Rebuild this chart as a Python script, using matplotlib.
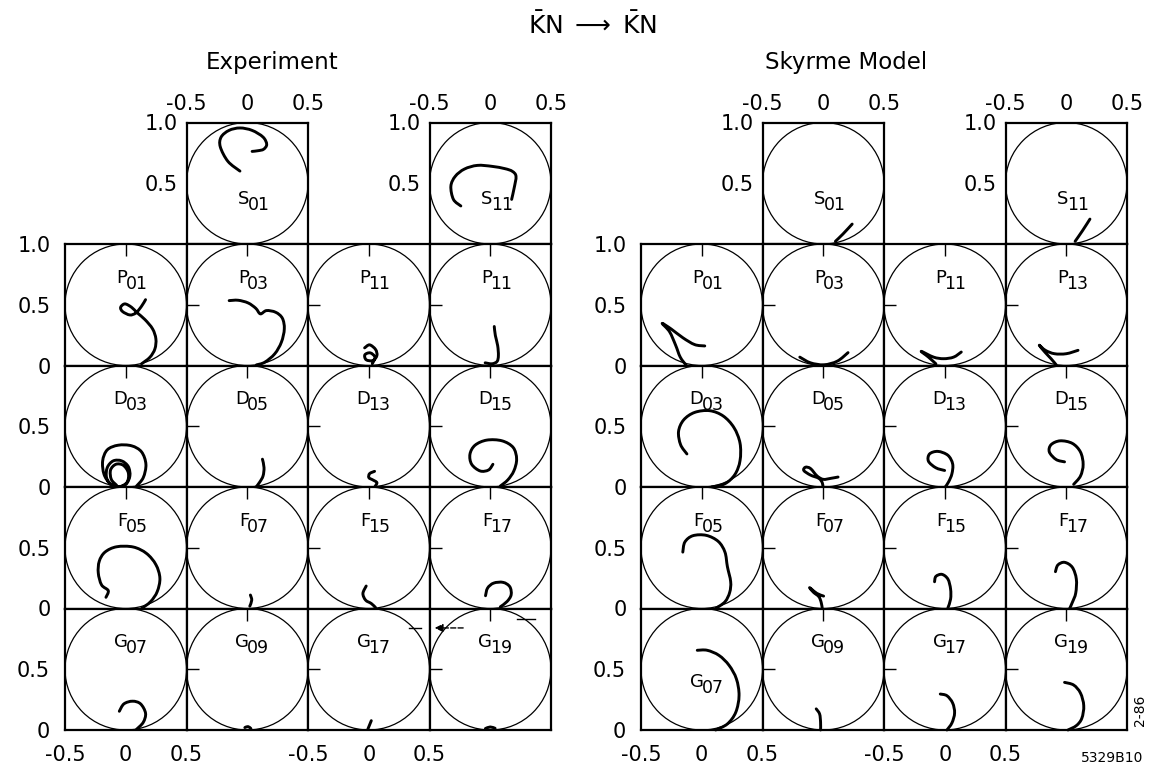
import matplotlib
matplotlib.use('Agg')
import matplotlib.pyplot as plt
from matplotlib.patches import Circle, PathPatch
from matplotlib.path import Path
import matplotlib.transforms as mtransforms

W, H = 1152, 773
fig = plt.figure(figsize=(W / 100, H / 100), dpi=100)
plt.rcParams['font.family'] = ['DejaVu Sans']

# ---------------- data (Argand-diagram trajectories, cell coords: x = Re, y = Im) ----------------
panel_titles = ["Experiment", "Skyrme Model"]
main_title = r"$\mathrm{\bar{K}N}\;\longrightarrow\;\mathrm{\bar{K}N}$"
x_ticks = [-0.5, 0, 0.5]
x_tick_labels = ["-0.5", "0", "0.5"]
y_tick_labels_row = ["0", "0.5"]
y_tick_labels_box = ["0.5", "1.0"]

exp_top = ["S01", "S11"]
exp_grid = [["P01", "P03", "P11", "P11"],
            ["D03", "D05", "D13", "D15"],
            ["F05", "F07", "F15", "F17"],
            ["G07", "G09", "G17", "G19"]]
sky_top = ["S01", "S11"]
sky_grid = [["P01", "P03", "P11", "P13"],
            ["D03", "D05", "D13", "D15"],
            ["F05", "F07", "F15", "F17"],
            ["G07", "G09", "G17", "G19"]]

# Experiment
exp_S01 = ([-0.060, -0.159, -0.222, -0.215, -0.150, -0.060, 0.040, 0.130, 0.160, 0.135, 0.090, 0.040],
           [0.600, 0.680, 0.800, 0.880, 0.935, 0.955, 0.935, 0.880, 0.820, 0.780, 0.768, 0.762])
exp_S11 = ([-0.242, -0.303, -0.324, -0.288, -0.212, -0.106, 0.015, 0.121, 0.182, 0.212, 0.197, 0.176],
           [0.313, 0.367, 0.476, 0.557, 0.617, 0.647, 0.639, 0.620, 0.598, 0.557, 0.462, 0.367])
exp_P01 = ([0.163, 0.130, 0.084, 0.034, -0.026, -0.042, -0.007, 0.048, 0.095, 0.158, 0.221, 0.248, 0.240, 0.199, 0.130],
           [0.542, 0.488, 0.433, 0.416, 0.444, 0.479, 0.507, 0.479, 0.433, 0.378, 0.301, 0.219, 0.137, 0.068, 0.014])
exp_P03 = ([-0.149, -0.075, 0.007, 0.070, 0.108, 0.158, 0.234, 0.289, 0.305, 0.281, 0.226, 0.144, 0.075],
           [0.534, 0.537, 0.515, 0.471, 0.425, 0.452, 0.438, 0.389, 0.301, 0.192, 0.096, 0.027, 0.005])
exp_P11a = ([-0.034, 0.007, 0.056, 0.067, 0.034, -0.021, -0.032, 0.012, 0.051, 0.029],
            [0.145, 0.170, 0.132, 0.082, 0.041, 0.047, 0.088, 0.104, 0.068, 0.014])
exp_P11b = ([0.033, 0.042, 0.061, 0.067, 0.056, 0.014, -0.042],
            [0.321, 0.247, 0.164, 0.082, 0.033, 0.014, 0.022])
exp_D03 = ([0.089, 0.144, 0.166, 0.130, 0.048, -0.062, -0.152, -0.190, -0.179, -0.130, -0.062, 0.001, 0.034,
            0.021, -0.034, -0.103, -0.152, -0.158, -0.116, -0.048, 0.012, 0.021, -0.021, -0.081, -0.125, -0.119, -0.075],
           [0.008, 0.077, 0.187, 0.289, 0.339, 0.344, 0.306, 0.215, 0.105, 0.030, 0.003, 0.022, 0.091,
            0.168, 0.215, 0.215, 0.160, 0.077, 0.014, 0.003, 0.041, 0.118, 0.179, 0.187, 0.140, 0.063, 0.014])
exp_D05 = ([0.125, 0.138, 0.130, 0.103, 0.075],
           [0.229, 0.160, 0.091, 0.041, 0.003])
exp_D13 = ([0.048, 0.007, 0.001, 0.034, 0.067, 0.051],
           [0.129, 0.110, 0.077, 0.058, 0.036, 0.003])
exp_D15 = ([0.022, -0.014, -0.083, -0.153, -0.167, -0.125, -0.028, 0.097, 0.189, 0.217, 0.194, 0.144, 0.083],
           [0.187, 0.140, 0.132, 0.187, 0.270, 0.344, 0.386, 0.380, 0.325, 0.229, 0.132, 0.058, 0.008])
exp_F05 = ([-0.163, -0.144, -0.199, -0.226, -0.218, -0.171, -0.075, 0.062, 0.171, 0.248, 0.281, 0.259, 0.204, 0.130],
           [0.092, 0.147, 0.194, 0.292, 0.389, 0.464, 0.508, 0.506, 0.453, 0.361, 0.250, 0.139, 0.056, 0.0])
exp_F07 = ([0.026, 0.037, 0.021], [0.111, 0.069, 0.019])
exp_F15 = ([-0.021, -0.048, -0.026, 0.021, 0.056], [0.185, 0.124, 0.069, 0.041, 0.008])
exp_F17 = ([-0.039, -0.022, 0.028, 0.106, 0.161, 0.172, 0.139, 0.083],
           [0.105, 0.168, 0.209, 0.215, 0.179, 0.113, 0.058, 0.014])
exp_G07 = ([-0.053, -0.015, 0.056, 0.122, 0.163, 0.144, 0.089],
           [0.154, 0.215, 0.237, 0.215, 0.138, 0.063, 0.006])
exp_G09 = ([-0.02, 0.007, 0.03], [0.02, 0.028, 0.012])
exp_G17 = ([0.021, -0.007], [0.077, 0.008])
exp_G19 = ([-0.04, 0.0, 0.04], [0.012, 0.025, 0.014])

# Skyrme model
sky_S01 = ([0.238, 0.162, 0.100], [0.164, 0.082, 0.022])
sky_S11 = ([0.195, 0.134, 0.073], [0.205, 0.110, 0.022])
sky_P01 = ([0.025, -0.058, -0.155, -0.251, -0.326, -0.265, -0.215, -0.177, -0.127],
           [0.161, 0.172, 0.228, 0.300, 0.347, 0.278, 0.167, 0.069, 0.0])
sky_P03 = ([-0.193, -0.105, 0.006, 0.116, 0.204], [0.069, 0.022, 0.006, 0.036, 0.106])
sky_P11 = ([0.136, 0.073, -0.010, -0.092, -0.194, -0.134, -0.073],
           [0.111, 0.069, 0.056, 0.069, 0.117, 0.069, 0.014])
sky_P13 = ([0.097, 0.0, -0.097, -0.172, -0.222, -0.172, -0.125, -0.083],
           [0.125, 0.097, 0.097, 0.125, 0.167, 0.106, 0.056, 0.006])
sky_D03 = ([-0.122, -0.174, -0.191, -0.149, -0.058, 0.066, 0.177, 0.265, 0.315, 0.315, 0.273, 0.191, 0.080],
           [0.272, 0.348, 0.457, 0.552, 0.614, 0.628, 0.584, 0.489, 0.361, 0.217, 0.103, 0.027, 0.0])
sky_D05 = ([0.122, 0.061, 0.0, -0.050, -0.105, -0.146, -0.160, -0.105, -0.036, -0.008, -0.003],
           [0.082, 0.071, 0.063, 0.090, 0.152, 0.163, 0.136, 0.098, 0.071, 0.035, 0.0])
sky_D13 = ([-0.001, -0.073, -0.134, -0.125, -0.056, 0.026, 0.065, 0.059, 0.032, 0.004],
           [0.136, 0.158, 0.212, 0.272, 0.293, 0.261, 0.190, 0.109, 0.043, 0.0])
sky_D15 = ([-0.014, -0.083, -0.139, -0.125, -0.050, 0.050, 0.117, 0.139, 0.117, 0.061],
           [0.207, 0.226, 0.288, 0.348, 0.380, 0.359, 0.288, 0.185, 0.090, 0.022])
sky_F05 = ([-0.156, -0.139, -0.073, 0.037, 0.136, 0.191, 0.211, 0.238, 0.230, 0.191, 0.114],
           [0.464, 0.547, 0.599, 0.602, 0.552, 0.464, 0.345, 0.221, 0.133, 0.055, 0.0])
sky_F07 = ([0.003, -0.052, -0.097, -0.113, -0.080, -0.036, -0.017, -0.008],
           [0.102, 0.124, 0.160, 0.171, 0.133, 0.097, 0.050, 0.0])
sky_F15 = ([-0.084, -0.073, -0.023, 0.026, 0.048, 0.048, 0.026],
           [0.220, 0.264, 0.281, 0.242, 0.160, 0.077, 0.006])
sky_F17 = ([-0.089, -0.069, -0.014, 0.050, 0.083, 0.078, 0.050, 0.028],
           [0.303, 0.358, 0.380, 0.339, 0.242, 0.127, 0.050, 0.0])
sky_G07 = ([-0.037, 0.045, 0.142, 0.225, 0.285, 0.307, 0.280, 0.211, 0.114],
           [0.656, 0.656, 0.614, 0.532, 0.421, 0.284, 0.146, 0.050, 0.0])
sky_G09 = ([-0.058, -0.030, -0.022, -0.022], [0.174, 0.132, 0.063, 0.0])
sky_G17 = ([-0.037, 0.018, 0.065, 0.081, 0.059, 0.018], [0.296, 0.282, 0.222, 0.140, 0.058, 0.0])
sky_G19 = ([-0.014, 0.061, 0.117, 0.144, 0.128, 0.083, 0.014], [0.392, 0.370, 0.304, 0.200, 0.096, 0.036, 0.0])

exp_top_curves = [[exp_S01], [exp_S11]]
exp_grid_curves = [[[exp_P01], [exp_P03], [exp_P11a], [exp_P11b]],
                   [[exp_D03], [exp_D05], [exp_D13], [exp_D15]],
                   [[exp_F05], [exp_F07], [exp_F15], [exp_F17]],
                   [[exp_G07], [exp_G09], [exp_G17], [exp_G19]]]
sky_top_curves = [[sky_S01], [sky_S11]]
sky_grid_curves = [[[sky_P01], [sky_P03], [sky_P11], [sky_P13]],
                   [[sky_D03], [sky_D05], [sky_D13], [sky_D15]],
                   [[sky_F05], [sky_F07], [sky_F15], [sky_F17]],
                   [[sky_G07], [sky_G09], [sky_G17], [sky_G19]]]

# ---------------- layout (pixels) ----------------
CELL = 121.5
panel_x0 = [65, 641]
grid_y0 = 244
top_y0 = grid_y0 - CELL
FS = 15


def make_cell(px, py):
    ax = fig.add_axes([px / W, 1 - (py + CELL) / H, CELL / W, CELL / H])
    ax.set_xlim(-0.5, 0.5)
    ax.set_ylim(0, 1)
    for s in ax.spines.values():
        s.set_linewidth(1.6)
    ax.add_patch(Circle((0, 0.5), 0.5, fill=False, lw=0.9, color='black'))
    ax.set_xticks([])
    ax.set_yticks([])
    ax.set_xticks([0], minor=True)
    ax.set_yticks([0.5], minor=True)
    ax.tick_params(which='minor', direction='in', length=8.5, width=1.0,
                   top=True, bottom=False, left=True, right=False)
    ax.tick_params(which='major', length=0, labelsize=FS, pad=10)
    return ax


def wave_label(ax, name, x, y):
    ax.text(x, y, name[0], ha='right', va='baseline', fontsize=13)
    off = mtransforms.offset_copy(ax.transData, fig=fig, x=-2, y=-6, units='dots')
    ax.text(x, y, name[1:], ha='left', va='baseline', fontsize=12.5, transform=off)


def draw_curves(ax, curves):
    # smooth (Catmull-Rom -> cubic Bezier) rendering through the read points
    for cx, cy in curves:
        pts = list(zip(cx, cy))
        n = len(pts)
        verts = [pts[0]]
        codes = [Path.MOVETO]
        for i in range(n - 1):
            p0 = pts[i - 1] if i > 0 else pts[i]
            p1 = pts[i]
            p2 = pts[i + 1]
            p3 = pts[i + 2] if i + 2 < n else pts[i + 1]
            c1 = (p1[0] + (p2[0] - p0[0]) / 6, p1[1] + (p2[1] - p0[1]) / 6)
            c2 = (p2[0] - (p3[0] - p1[0]) / 6, p2[1] - (p3[1] - p1[1]) / 6)
            verts += [c1, c2, p2]
            codes += [Path.CURVE4] * 3
        patch = PathPatch(Path(verts, codes), fill=False, lw=2.1, edgecolor='black',
                          capstyle='round', joinstyle='round', clip_on=False)
        ax.add_patch(patch)


panels = [(exp_top, exp_grid, exp_top_curves, exp_grid_curves),
          (sky_top, sky_grid, sky_top_curves, sky_grid_curves)]

axes_store = {}
for p, (tops, grid, tcurves, gcurves) in enumerate(panels):
    x0 = panel_x0[p]
    # top boxes (columns 1 and 3)
    for k, col in enumerate([1, 3]):
        ax = make_cell(x0 + col * CELL, top_y0)
        ax.set_xticks(x_ticks)
        ax.set_xticklabels(x_tick_labels)
        ax.xaxis.set_ticks_position('top')
        ax.tick_params(which='minor', top=True, bottom=False)
        ax.tick_params(which='major', labeltop=True, labelbottom=False, pad=6)
        ax.set_yticks([0.5, 1.0])
        ax.set_yticklabels(y_tick_labels_box)
        wave_label(ax, tops[k], 0.02, 0.33)
        draw_curves(ax, tcurves[k])
    for r in range(4):
        for c in range(4):
            ax = make_cell(x0 + c * CELL, grid_y0 + r * CELL)
            axes_store[(p, r, c)] = ax
            if c == 0:
                if r == 0:
                    ax.set_yticks([0, 0.5, 1.0])
                    ax.set_yticklabels(y_tick_labels_row + ["1.0"])
                else:
                    ax.set_yticks([0, 0.5])
                    ax.set_yticklabels(y_tick_labels_row)
            if r == 3 and c in (0, 2):
                ax.set_xticks(x_ticks)
                ax.set_xticklabels(x_tick_labels)
                ax.tick_params(which='major', pad=11)
            ly = 0.35 if (p == 1 and r == 3 and c == 0) else 0.68
            wave_label(ax, grid[r][c], 0.015, ly)
            draw_curves(ax, gcurves[r][c])

# stray hand-drawn arrow in the experiment G19 cell
axg = axes_store[(0, 3, 3)]
axg.annotate('', xy=(-0.48, 0.84), xytext=(-0.2, 0.84),
             arrowprops=dict(arrowstyle='-|>', lw=1.0, ls='--', color='black', mutation_scale=12),
             annotation_clip=False)
axg.plot([-0.67, -0.57], [0.84, 0.84], color='black', lw=1.0, clip_on=False)
axg.plot([0.22, 0.37], [0.91, 0.91], color='black', lw=1.0, clip_on=False)

# titles
fig.text(592 / W, 1 - 25 / H, main_title, ha='center', va='center', fontsize=18)
fig.text(272 / W, 1 - 63 / H, panel_titles[0], ha='center', va='center', fontsize=16.5)
fig.text(846 / W, 1 - 63 / H, panel_titles[1], ha='center', va='center', fontsize=16.5)
fig.text(1112 / W, 1 - 758 / H, "5329B10", ha='center', va='center', fontsize=10)
fig.text(1140 / W, 1 - 710 / H, "2-86", ha='center', va='center', fontsize=10, rotation=90)

fig.savefig('out.png', dpi=100)
